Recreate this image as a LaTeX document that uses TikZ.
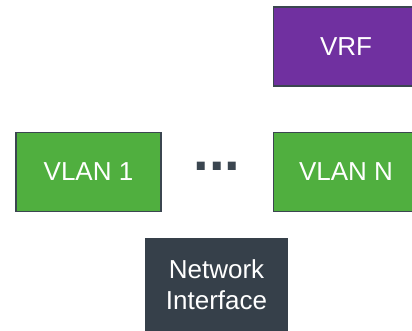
\documentclass[tikz,border=0pt]{standalone}
\usepackage{fontspec}
\setmainfont{Liberation Sans}
\usetikzlibrary{positioning}
\usepackage{xcolor}
\definecolor{vlan}{HTML}{50AF3F}
\definecolor{vrf}{HTML}{7030A0}
\definecolor{slate}{HTML}{36404A}
\definecolor{edge}{HTML}{3B4650}

\tikzset{
  box/.style={draw=edge,line width=1.5pt,minimum width=145pt,minimum height=79pt,
    inner sep=0pt,text=white,align=center,font=\fontsize{26}{31}\selectfont},
}

\begin{document}
\begin{tikzpicture}[x=1pt,y=-1pt]
  \useasboundingbox (0,0) rectangle (412,331);
  \clip (0,0) rectangle (412,331);
  \node[box,fill=vlan] (vlan1) at (88.5,172) {VLAN 1};
  \node[box,fill=vlan,right=111pt of vlan1] (vlann) {VLAN N};
  \node[box,fill=vrf,above=45pt of vlann] (vrf) {VRF};
  \node[anchor=base,text=edge,inner sep=0pt,font=\fontsize{56}{56}\selectfont\bfseries] (dots) at (217,171) {...};
  \node[fill=slate,minimum width=143pt,minimum height=94pt,inner sep=0pt,text=white,align=center,
        font=\fontsize{26}{31}\selectfont] (netif) at (216.5,285) {Network\\Interface};
\end{tikzpicture}
\end{document}
